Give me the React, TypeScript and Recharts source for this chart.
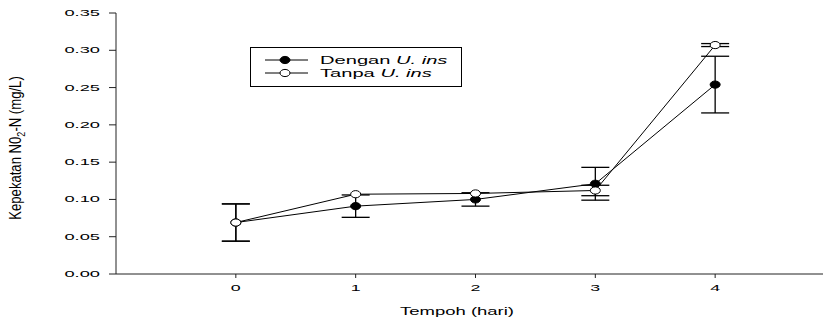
import { ErrorBar, Label, Legend, Line, LineChart, XAxis, YAxis } from 'recharts'

const days = [0, 1, 2, 3, 4]
const denganMean = [0.069, 0.091, 0.1, 0.121, 0.254]
const denganErr = [0.025, 0.015, 0.009, 0.022, 0.038]
const tanpaMean = [0.069, 0.107, 0.108, 0.112, 0.307]
const tanpaErr = [0.025, 0, 0, 0.007, 0.002]
const yTicks = [0, 0.05, 0.1, 0.15, 0.2, 0.25, 0.3, 0.35]

const data = days.map((d, i) => ({
  day: d,
  dengan: denganMean[i],
  denganErr: denganErr[i],
  tanpa: tanpaMean[i],
  tanpaErr: tanpaErr[i],
}))

const FONT = "'Liberation Sans', Arial, sans-serif"

const XTick = ({ x, y, payload }: any) => (
  <text
    transform={`translate(${x},${y + 11}) scale(2.1,1)`}
    textAnchor="middle"
    fontSize={8.5}
    fontFamily={FONT}
    fill="#000"
  >
    {payload.value}
  </text>
)

const YTick = ({ x, y, payload }: any) => (
  <text
    transform={`translate(${x},${y + 3}) scale(2.15,1)`}
    textAnchor="end"
    fontSize={8.5}
    fontFamily={FONT}
    fill="#000"
  >
    {Number(payload.value).toFixed(2)}
  </text>
)

const FilledDot = ({ cx, cy, index }: any) => (
  <ellipse key={`f${index}`} cx={cx} cy={cy} rx={5} ry={3.6} fill="#000" stroke="#000" strokeWidth={1} />
)

const OpenDot = ({ cx, cy, index }: any) => (
  <ellipse key={`o${index}`} cx={cx} cy={cy} rx={5} ry={3.6} fill="#fff" stroke="#000" strokeWidth={1} />
)

const LegendBox = () => (
  <svg width={214} height={41} style={{ display: 'block' }}>
    <rect x={0.5} y={0.5} width={211} height={39} fill="#fff" stroke="#000" strokeWidth={1} />
    <line x1={15} x2={58} y1={13} y2={13} stroke="#000" />
    <ellipse cx={35} cy={13} rx={5} ry={3.6} fill="#000" stroke="#000" />
    <text transform="translate(70,17) scale(1.75,1)" fontSize={11.5} fontFamily={FONT} fill="#000">
      Dengan <tspan fontStyle="italic">U. ins</tspan>
    </text>
    <line x1={15} x2={58} y1={26} y2={26} stroke="#000" />
    <ellipse cx={35} cy={26} rx={5} ry={3.6} fill="#fff" stroke="#000" />
    <text transform="translate(70,30) scale(1.75,1)" fontSize={11.5} fontFamily={FONT} fill="#000">
      Tanpa <tspan fontStyle="italic">U. ins</tspan>
    </text>
  </svg>
)

export default function App() {
  return (
    <div style={{ width: 823, height: 322, background: '#fff', position: 'relative' }}>
      <style>{'body{margin:0}'}</style>
      <LineChart width={823} height={322} data={data} margin={{ top: 13, right: 0, bottom: 0, left: 0 }}>
        <XAxis
          dataKey="day"
          type="number"
          domain={[-1, 4.9]}
          ticks={days}
          tick={<XTick />}
          tickSize={4}
          stroke="#222"
          height={48}
        >
          <Label
            content={() => (
              <text
                transform="translate(457,315) scale(1.85,1)"
                textAnchor="middle"
                fontSize={10}
                fontFamily={FONT}
                fill="#000"
              >
                Tempoh (hari)
              </text>
            )}
          />
        </XAxis>
        <YAxis
          type="number"
          domain={[0, 0.35]}
          ticks={yTicks}
          tick={<YTick />}
          tickSize={7}
          tickMargin={9}
          width={116}
          stroke="#222"
          interval={0}
        >
          <Label
            content={() => (
              <text
                transform="translate(21,148) rotate(-90) scale(0.82,1)"
                textAnchor="middle"
                fontSize={16}
                fontFamily={FONT}
                fill="#000"
              >
                Kepekatan N0
                <tspan fontSize={11} dy={4}>2</tspan>
                <tspan dy={-4}>-N (mg/L)</tspan>
              </text>
            )}
          />
        </YAxis>
        <Legend
          layout="vertical"
          align="center"
          verticalAlign="middle"
          content={() => <LegendBox />}
          wrapperStyle={{ position: 'absolute', left: 250, top: 47, width: 214, height: 41 }}
        />
        <Line
          type="linear"
          dataKey="dengan"
          stroke="#000"
          strokeWidth={1}
          dot={<FilledDot />}
          isAnimationActive={false}
        >
          <ErrorBar dataKey="denganErr" width={14} stroke="#000" strokeWidth={1.3} direction="y" />
        </Line>
        <Line
          type="linear"
          dataKey="tanpa"
          stroke="#000"
          strokeWidth={1}
          dot={<OpenDot />}
          isAnimationActive={false}
        >
          <ErrorBar dataKey="tanpaErr" width={14} stroke="#000" strokeWidth={1.3} direction="y" />
        </Line>
      </LineChart>
    </div>
  )
}
